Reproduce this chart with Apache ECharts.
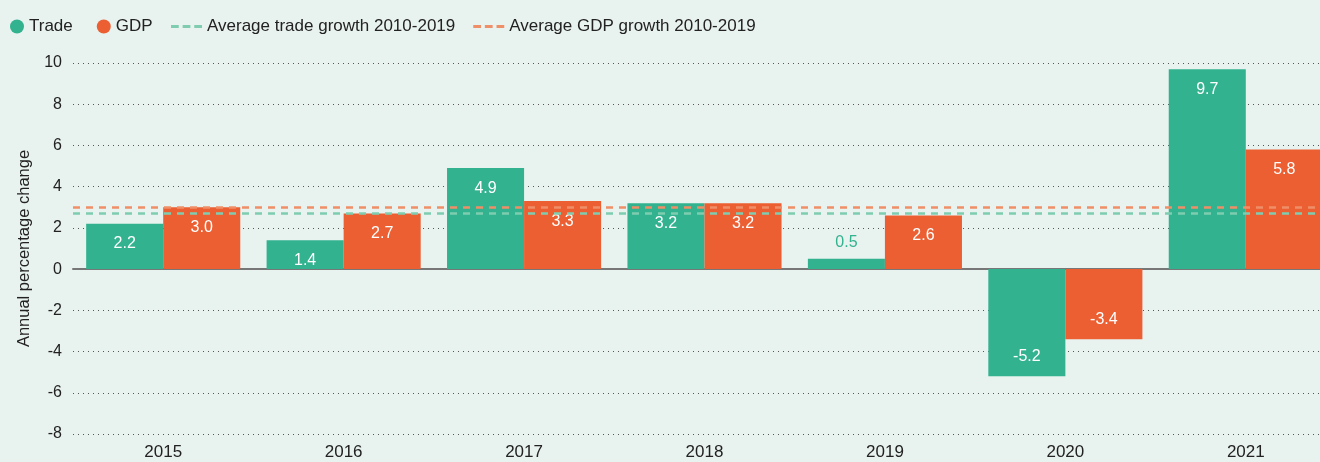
<!DOCTYPE html>
<html lang="en">
<head>
<meta charset="utf-8">
<title>Trade and GDP growth</title>
<script src="https://cdn.jsdelivr.net/npm/echarts@6/dist/echarts.min.js"></script>
<style>
  html, body { margin: 0; padding: 0; background: #e8f2ee; }
  #chart { width: 1320px; height: 462px; }
</style>
</head>
<body>
<div id="chart"></div>
<script type="text/javascript">
    let years = ['2015', '2016', '2017', '2018', '2019', '2020', '2021'];
    let tradeGrowth = [2.2, 1.4, 4.9, 3.2, 0.5, -5.2, 9.7];
    let gdpGrowth = [3.0, 2.7, 3.3, 3.2, 2.6, -3.4, 5.8];
    let avgTrade = 2.7;
    let avgGdp = 3.0;

    let green = '#32b28f';
    let orange = '#eb5f32';
    let greenLight = '#7fcdb1';
    let orangeLight = '#ef8f68';
    let font = '"Liberation Sans", Arial, sans-serif';
    let dashIcon = 'path://M0,0h8v3h-8z M12,0h8v3h-8z M24,0h8v3h-8z';

    // labels sit at the far end of the bar, small bars get it outside
    function barData(values, color){
        return values.map((v) => {
            let item = { value: v, label: { position: v < 0 ? 'insideBottom' : 'insideTop' } };
            if(Math.abs(v) < 1){
                item.label = { position: 'top', color: color, distance: 8 };
            }
            return item;
        });
    }

    let Chart = echarts.init(document.getElementById('chart'));

    let legendText = { fontSize: 17, color: '#222', fontFamily: font };

    let option = {
        backgroundColor: '#e8f2ee',
        textStyle: { fontFamily: font },
        legend: [
            {
                left: 5,
                top: 13,
                itemGap: 24,
                itemWidth: 14,
                itemHeight: 14,
                textStyle: legendText,
                data: [
                    { name: 'Trade', icon: 'circle' },
                    { name: 'GDP', icon: 'circle' }
                ]
            },
            {
                left: 166,
                top: 13,
                itemGap: 18,
                itemWidth: 31,
                itemHeight: 3,
                textStyle: legendText,
                data: [
                    { name: 'Average trade growth 2010-2019', icon: dashIcon },
                    { name: 'Average GDP growth 2010-2019', icon: dashIcon }
                ]
            }
        ],
        grid: { left: 73, top: 63, width: 1263, height: 371, outerBoundsMode: 'none' },
        xAxis: {
            type: 'category',
            data: years,
            axisTick: { show: false },
            axisLine: { onZero: true, lineStyle: { color: '#777', width: 2 } },
            axisLabel: { fontSize: 17, color: '#222', margin: 10, fontFamily: font }
        },
        yAxis: {
            type: 'value',
            min: -8,
            max: 10,
            interval: 2,
            name: 'Annual percentage change',
            nameLocation: 'middle',
            nameGap: 37,
            nameTextStyle: { fontSize: 16.5, color: '#222', fontFamily: font },
            axisLabel: { fontSize: 16, color: '#222', margin: 11, fontFamily: font },
            splitLine: { lineStyle: { type: [1, 4], color: '#555', width: 1 } }
        },
        series: [
            {
                name: 'Trade',
                type: 'bar',
                data: barData(tradeGrowth, green),
                itemStyle: { color: green },
                barGap: '0%',
                barCategoryGap: '14.6%',
                label: { show: true, color: '#fff', fontSize: 16, distance: 12, formatter: (p) => p.value.toFixed(1) }
            },
            {
                name: 'GDP',
                type: 'bar',
                data: barData(gdpGrowth, orange),
                itemStyle: { color: orange },
                label: { show: true, color: '#fff', fontSize: 16, distance: 12, formatter: (p) => p.value.toFixed(1) }
            },
            {
                name: 'Average trade growth 2010-2019',
                type: 'line',
                data: [],
                symbol: 'none',
                itemStyle: { color: greenLight },
                lineStyle: { type: 'dashed', color: greenLight, width: 2.5 },
                markLine: {
                    silent: true,
                    symbol: 'none',
                    label: { show: false },
                    lineStyle: { type: [7, 6], color: greenLight, width: 2.5 },
                    data: [{ yAxis: avgTrade }]
                }
            },
            {
                name: 'Average GDP growth 2010-2019',
                type: 'line',
                data: [],
                symbol: 'none',
                itemStyle: { color: orangeLight },
                lineStyle: { type: 'dashed', color: orangeLight, width: 2.5 },
                markLine: {
                    silent: true,
                    symbol: 'none',
                    label: { show: false },
                    lineStyle: { type: [7, 6], color: orangeLight, width: 2.5 },
                    data: [{ yAxis: avgGdp }]
                }
            }
        ]
    };

    Chart.setOption(option);
</script>
</body>
</html>
